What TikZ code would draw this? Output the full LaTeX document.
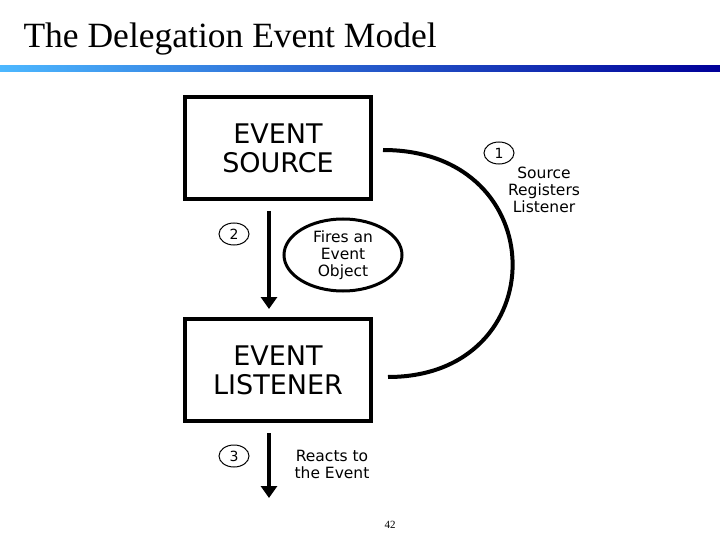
\documentclass[tikz,border=0pt]{standalone}
\usepackage{fontspec}
\setmainfont{Liberation Serif}
\newfontfamily\dv{DejaVu Sans}
\usetikzlibrary{shapes.geometric,arrows.meta}
\begin{document}
\begin{tikzpicture}[x=1pt,y=-1pt,
  box/.style={draw,line width=4.5pt,minimum width=186pt,minimum height=102pt,font=\dv\fontsize{27}{29}\selectfont,align=center},
  num/.style={draw,ellipse,line width=1pt,minimum width=30pt,minimum height=22pt,inner sep=0pt,font=\dv\fontsize{14}{14}\selectfont},
  lbl/.style={font=\dv\fontsize{15.5}{17}\selectfont,align=center},
  arr/.style={line width=4pt,-{Triangle[length=12pt,width=16pt]}}]
\useasboundingbox (0,0) rectangle (720,540);
\node[anchor=base west,font=\fontsize{35.5}{36}\selectfont] (title) at (20,48) {The Delegation Event Model};
\shade[left color=cyan!60!blue!70,right color=blue!60!black] (0,66) rectangle (720,72);
\node[box] (src) at (278,148) {EVENT\\SOURCE};
\node[box] (lis) at (278,370) {EVENT\\LISTENER};
\coordinate (a1) at (269,211);
\coordinate (a1e) at (269,309);
\draw[arr] (a1) -- (a1e);
\coordinate (a2) at (269,433);
\coordinate (a2e) at (269,498);
\draw[arr] (a2) -- (a2e);
\node[num] (n1) at (499,153) {1};
\node[num] (n2) at (234,234) {2};
\node[num] (n3) at (234,456) {3};
\node[draw,ellipse,line width=3pt,minimum width=118pt,minimum height=72pt,inner sep=0pt,lbl] (fire) at (343,255) {Fires an\\Event\\Object};
\coordinate (c1) at (383,150);
\coordinate (c2) at (388,377);
\draw[line width=4pt] (c1) .. controls (555,150) and (555,377) .. (c2);
\node[lbl] (t1) at (544,190) {Source\\Registers\\Listener};
\node[lbl] (t3) at (332,464) {Reacts to\\the Event};
\node[font=\fontsize{11}{11}\selectfont] (pg) at (390,525) {42};
\end{tikzpicture}
\end{document}
